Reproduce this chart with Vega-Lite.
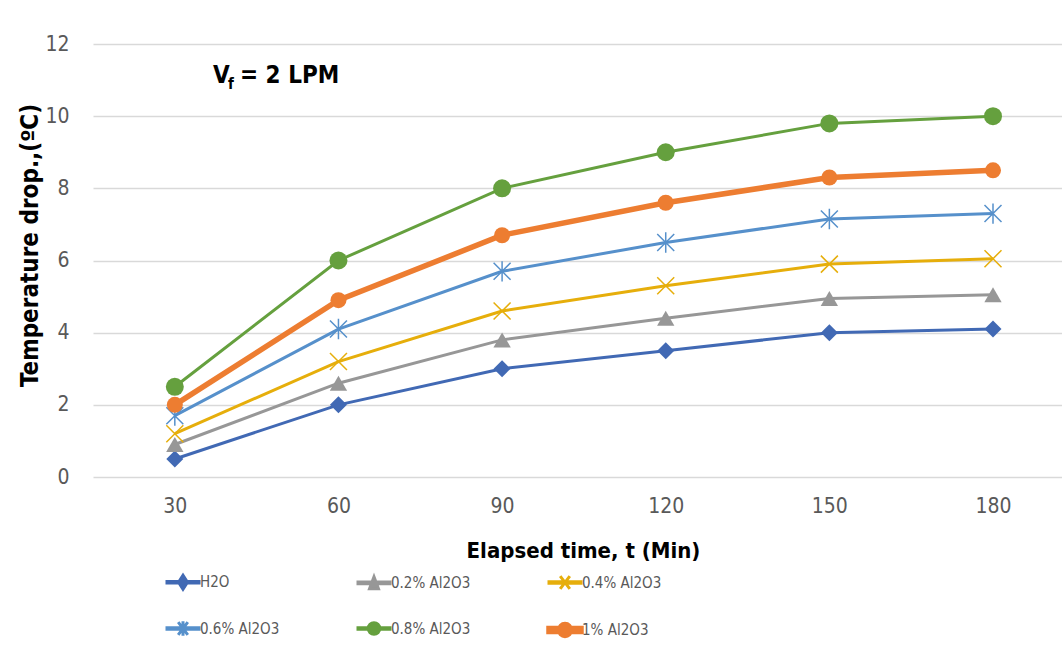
{
  "$schema": "https://vega.github.io/schema/vega-lite/v6.json",
  "width": 969,
  "height": 433,
  "autosize": {"type": "none"},
  "padding": {"left": 93, "top": 44, "right": 0, "bottom": 182},
  "background": "white",
  "config": {"view": {"stroke": null}, "font": "DejaVu Sans Condensed"},
  "data": {"values": [
    {"t": 30, "series": "H2O", "v": 0.5}, {"t": 60, "series": "H2O", "v": 2.0}, {"t": 90, "series": "H2O", "v": 3.0}, {"t": 120, "series": "H2O", "v": 3.5}, {"t": 150, "series": "H2O", "v": 4.0}, {"t": 180, "series": "H2O", "v": 4.1},
    {"t": 30, "series": "0.2% Al2O3", "v": 0.9}, {"t": 60, "series": "0.2% Al2O3", "v": 2.6}, {"t": 90, "series": "0.2% Al2O3", "v": 3.8}, {"t": 120, "series": "0.2% Al2O3", "v": 4.4}, {"t": 150, "series": "0.2% Al2O3", "v": 4.95}, {"t": 180, "series": "0.2% Al2O3", "v": 5.05},
    {"t": 30, "series": "0.4% Al2O3", "v": 1.2}, {"t": 60, "series": "0.4% Al2O3", "v": 3.2}, {"t": 90, "series": "0.4% Al2O3", "v": 4.6}, {"t": 120, "series": "0.4% Al2O3", "v": 5.3}, {"t": 150, "series": "0.4% Al2O3", "v": 5.9}, {"t": 180, "series": "0.4% Al2O3", "v": 6.05},
    {"t": 30, "series": "0.6% Al2O3", "v": 1.7}, {"t": 60, "series": "0.6% Al2O3", "v": 4.1}, {"t": 90, "series": "0.6% Al2O3", "v": 5.7}, {"t": 120, "series": "0.6% Al2O3", "v": 6.5}, {"t": 150, "series": "0.6% Al2O3", "v": 7.15}, {"t": 180, "series": "0.6% Al2O3", "v": 7.3},
    {"t": 30, "series": "0.8% Al2O3", "v": 2.5}, {"t": 60, "series": "0.8% Al2O3", "v": 6.0}, {"t": 90, "series": "0.8% Al2O3", "v": 8.0}, {"t": 120, "series": "0.8% Al2O3", "v": 9.0}, {"t": 150, "series": "0.8% Al2O3", "v": 9.8}, {"t": 180, "series": "0.8% Al2O3", "v": 10.0},
    {"t": 30, "series": "1% Al2O3", "v": 2.0}, {"t": 60, "series": "1% Al2O3", "v": 4.9}, {"t": 90, "series": "1% Al2O3", "v": 6.7}, {"t": 120, "series": "1% Al2O3", "v": 7.6}, {"t": 150, "series": "1% Al2O3", "v": 8.3}, {"t": 180, "series": "1% Al2O3", "v": 8.5}
  ]},
  "layer": [
    {
      "mark": {"type": "line", "clip": false},
      "encoding": {
        "x": {"field": "t", "type": "quantitative",
          "scale": {"domain": [15, 192.65], "nice": false, "zero": false},
          "axis": {"values": [30, 60, 90, 120, 150, 180], "grid": false, "domain": false, "ticks": false,
            "labelFontSize": 21, "labelColor": "#595959", "labelPadding": 18, "labelFlush": false,
            "title": "Elapsed time, t (Min)", "titleFontSize": 22, "titleFontWeight": "bold", "titleColor": "#000000",
            "titleX": 490, "titleY": 80, "titleBaseline": "alphabetic", "titleAlign": "center"}},
        "y": {"field": "v", "type": "quantitative",
          "scale": {"domain": [0, 12], "nice": false},
          "axis": {"values": [0, 2, 4, 6, 8, 10, 12], "grid": true, "gridColor": "#D9D9D9", "gridWidth": 1.5,
            "domain": false, "ticks": false, "labelFontSize": 21, "labelColor": "#595959", "labelPadding": 24,
            "title": "Temperature drop.,(ºC)", "titleFontSize": 24, "titleFontWeight": "bold", "titleColor": "#000000",
            "titleX": -63, "titleY": 201, "titleAlign": "center", "titleBaseline": "middle", "titleAngle": 270}},
        "color": {"field": "series", "type": "nominal",
          "scale": {"domain": ["H2O", "0.2% Al2O3", "0.4% Al2O3", "0.6% Al2O3", "0.8% Al2O3", "1% Al2O3"],
                    "range": ["#4169B4", "#979797", "#E6AE0B", "#5690CB", "#65A03E", "#ED7D31"]},
          "legend": {"title": null, "orient": "none", "legendX": 71, "legendY": 518, "columns": 3, "direction": "horizontal",
            "gridAlign": "all", "columnPadding": 67, "rowPadding": 13, "padding": 0,
            "symbolSize": 1024, "symbolStrokeWidth": 1.5, "labelOffset": -2,
            "labelFontSize": 15, "labelColor": "#595959",
            "encode": {"symbols": {"update": {
              "size": {"value": 1024},
              "strokeWidth": {"value": 1.5},
              "opacity": {"value": 1},
              "fill": {"signal": "scale('color', datum.value)"},
              "stroke": {"signal": "scale('color', datum.value)"},
              "shape": {"signal": "datum.value === 'H2O' ? 'M-1,-0.05L1,-0.05L1,0.05L-1,0.05ZM-0.28,0L0,-0.44L0.28,0L0,0.44Z' : datum.value === '0.2% Al2O3' ? 'M-1,-0.05L1,-0.05L1,0.05L-1,0.05ZM0,-0.38L0.28,0.36L-0.28,0.36Z' : datum.value === '0.4% Al2O3' ? 'M-1,-0.05L1,-0.05L1,0.05L-1,0.05ZM-0.3,-0.4L0.3,0.4M-0.3,0.4L0.3,-0.4' : datum.value === '0.6% Al2O3' ? 'M-1,-0.05L1,-0.05L1,0.05L-1,0.05ZM-0.3,-0.4L0.3,0.4M-0.3,0.4L0.3,-0.4M0,-0.45L0,0.45' : datum.value === '0.8% Al2O3' ? 'M-1,-0.05L1,-0.05L1,0.05L-1,0.05ZM-0.36,0A0.36,0.36 0 1,0 0.36,0A0.36,0.36 0 1,0 -0.36,0Z' : 'M-1,-0.1L1,-0.1L1,0.1L-1,0.1ZM-0.34,0A0.34,0.34 0 1,0 0.34,0A0.34,0.34 0 1,0 -0.34,0Z'"}
            }}}}},
        "strokeWidth": {"field": "series", "type": "nominal",
          "scale": {"type": "ordinal", "domain": ["H2O", "0.2% Al2O3", "0.4% Al2O3", "0.6% Al2O3", "0.8% Al2O3", "1% Al2O3"],
                    "range": [3, 3, 3, 3, 3, 5.5]},
          "legend": null}
      }
    },
    {
      "transform": [{"filter": "datum.series === 'H2O'"}],
      "mark": {"type": "point", "shape": "diamond", "size": 289, "filled": true, "opacity": 1, "color": "#4169B4", "clip": false},
      "encoding": {"x": {"field": "t", "type": "quantitative"}, "y": {"field": "v", "type": "quantitative"}}
    },
    {
      "transform": [{"filter": "datum.series === '0.2% Al2O3'"}],
      "mark": {"type": "point", "shape": "triangle-up", "size": 300, "filled": true, "opacity": 1, "color": "#979797", "clip": false},
      "encoding": {"x": {"field": "t", "type": "quantitative"}, "y": {"field": "v", "type": "quantitative"}}
    },
    {
      "transform": [{"filter": "datum.series === '0.4% Al2O3'"}],
      "mark": {"type": "point", "shape": "M-1,-1L1,1M-1,1L1,-1", "size": 289, "filled": false, "strokeWidth": 1.5, "opacity": 1, "color": "#E6AE0B", "clip": false},
      "encoding": {"x": {"field": "t", "type": "quantitative"}, "y": {"field": "v", "type": "quantitative"}}
    },
    {
      "transform": [{"filter": "datum.series === '0.6% Al2O3'"}],
      "mark": {"type": "point", "shape": "M-1,-1L1,1M-1,1L1,-1M0,-1.2L0,1.2", "size": 289, "filled": false, "strokeWidth": 1.5, "opacity": 1, "color": "#5690CB", "clip": false},
      "encoding": {"x": {"field": "t", "type": "quantitative"}, "y": {"field": "v", "type": "quantitative"}}
    },
    {
      "transform": [{"filter": "datum.series === '0.8% Al2O3'"}],
      "mark": {"type": "point", "shape": "circle", "size": 324, "filled": true, "opacity": 1, "color": "#65A03E", "clip": false},
      "encoding": {"x": {"field": "t", "type": "quantitative"}, "y": {"field": "v", "type": "quantitative"}}
    },
    {
      "transform": [{"filter": "datum.series === '1% Al2O3'"}],
      "mark": {"type": "point", "shape": "circle", "size": 256, "filled": true, "opacity": 1, "color": "#ED7D31", "clip": false},
      "encoding": {"x": {"field": "t", "type": "quantitative"}, "y": {"field": "v", "type": "quantitative"}}
    },
    {
      "data": {"values": [{"label": "V"}]},
      "mark": {"type": "text", "text": "V", "fontSize": 24, "fontWeight": "bold", "color": "#000000", "align": "left", "baseline": "alphabetic"},
      "encoding": {"x": {"datum": 37}, "y": {"datum": 10.92}}
    },
    {
      "data": {"values": [{"label": "f"}]},
      "mark": {"type": "text", "text": "f", "fontSize": 15, "fontWeight": "bold", "color": "#000000", "align": "left", "baseline": "alphabetic", "dx": 15, "dy": 6},
      "encoding": {"x": {"datum": 37}, "y": {"datum": 10.92}}
    },
    {
      "data": {"values": [{"label": "= 2 LPM"}]},
      "mark": {"type": "text", "text": "= 2 LPM", "fontSize": 24, "fontWeight": "bold", "color": "#000000", "align": "left", "baseline": "alphabetic", "dx": 27},
      "encoding": {"x": {"datum": 37}, "y": {"datum": 10.92}}
    }
  ]
}
